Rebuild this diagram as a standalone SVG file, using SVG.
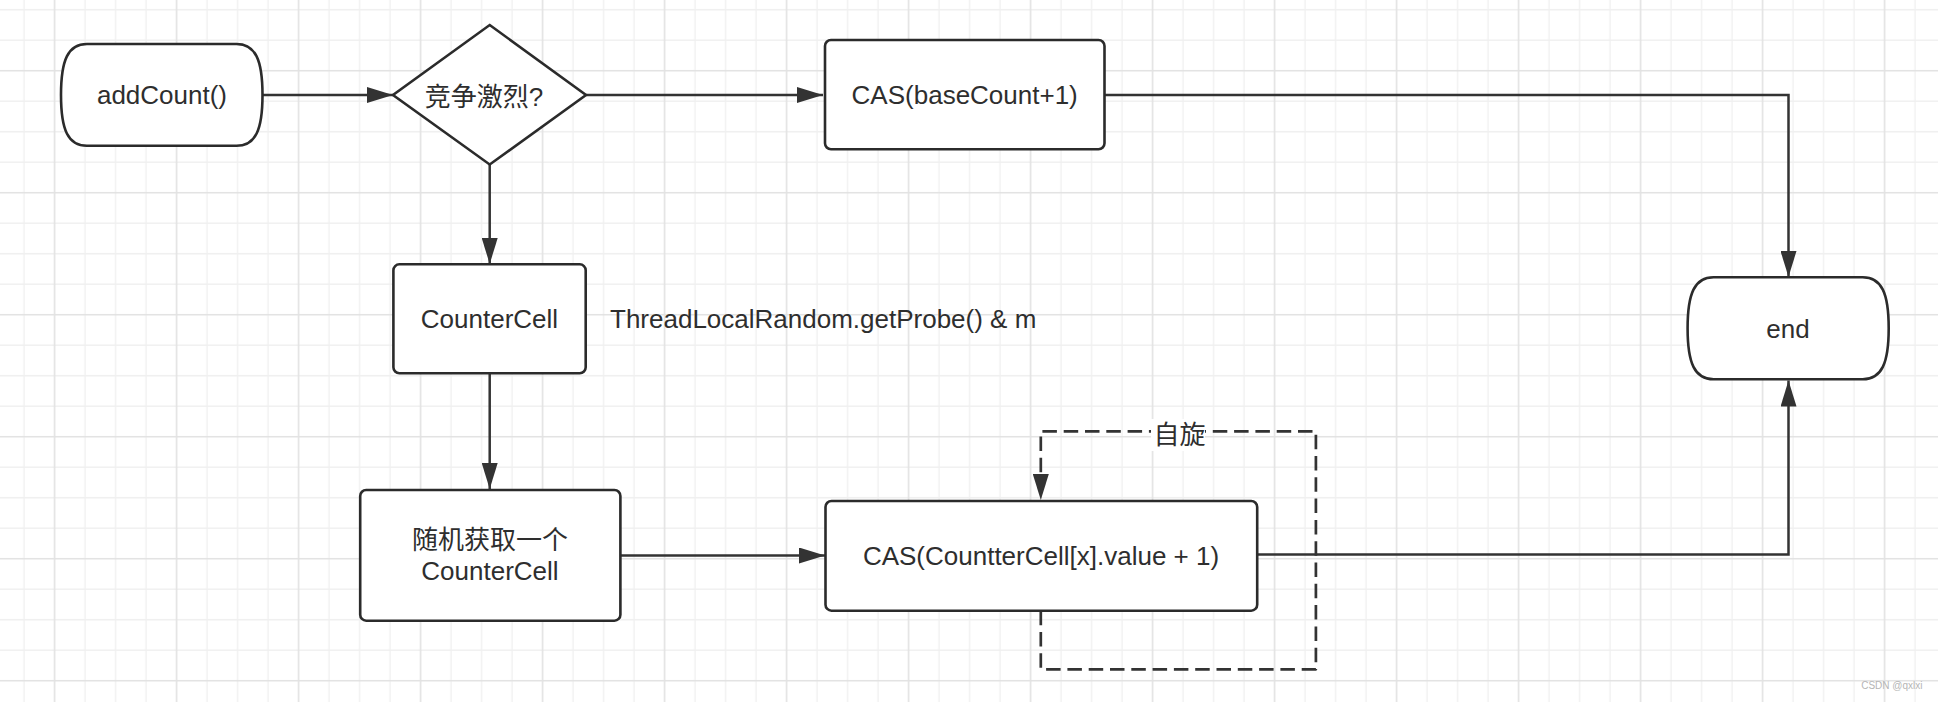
<svg xmlns="http://www.w3.org/2000/svg" width="1938" height="702" viewBox="0 0 1938 702">
  <style>
    .box { fill: #ffffff; stroke: #2b2b2b; stroke-width: 2.6; }
    .lbl { font-family: "Liberation Sans", "Noto Sans CJK SC", sans-serif; font-size: 26px; fill: #2e2e2e; text-anchor: middle; }
    .conn { fill: none; stroke: #333333; stroke-width: 2.5; }
    .dash { fill: none; stroke: #333333; stroke-width: 2.7; stroke-dasharray: 14.5 6.8; stroke-linejoin: round; }
  </style>
  <defs>
    <pattern id="grid" patternUnits="userSpaceOnUse" x="8.75" y="24.95" width="122" height="122">
      <path d="M15.25,0 V122 M76.25,0 V122 M106.75,0 V122 M0,15.25 H122 M0,76.25 H122 M0,106.75 H122" stroke="#f0f0f0" stroke-width="1.3" fill="none"/>
      <path d="M45.75,0 V122 M0,45.75 H122" stroke="#e2e2e2" stroke-width="1.6" fill="none"/>
    </pattern>
    <marker id="arrow" viewBox="0 0 26 16" refX="26" refY="8" markerWidth="26" markerHeight="16" markerUnits="userSpaceOnUse" orient="auto">
      <path d="M0,0 L26,8 L0,16 Z" fill="#333333"/>
    </marker>
  </defs>

  <rect x="0" y="0" width="1938" height="702" fill="#ffffff"/>
  <rect x="0" y="0" width="1938" height="702" fill="url(#grid)"/>

  <g id="connectors">
    <path class="conn" d="M262.5,95 H393" marker-end="url(#arrow)"/>
    <path class="conn" d="M586,95 H823" marker-end="url(#arrow)"/>
    <path class="conn" d="M489.7,164.5 V264" marker-end="url(#arrow)"/>
    <path class="conn" d="M1104.5,95 H1788.5 V277" marker-end="url(#arrow)"/>
    <path class="conn" d="M489.7,373.3 V489" marker-end="url(#arrow)"/>
    <path class="conn" d="M620.4,555.5 H825" marker-end="url(#arrow)"/>
    <path class="conn" d="M1257,554.5 H1788.5 V380.5" marker-end="url(#arrow)"/>
    <path class="dash" d="M1040.8,610.7 V669.3 H1315.9 V431.3 H1040.8 V500" marker-end="url(#arrow)"/>
    <rect x="1151" y="419" width="54" height="32" fill="#ffffff"/>
    <text class="lbl" x="1179.5" y="444">自旋</text>
  </g>

  <g id="addCount">
    <path class="box" d="M87,44 H236.5 C255.5,44 262.5,60 262.5,95 C262.5,130 255.5,145.7 236.5,145.7 H87 C68,145.7 61,130 61,95 C61,60 68,44 87,44 Z"/>
    <text class="lbl" x="162" y="104">addCount()</text>
  </g>

  <g id="decision">
    <path class="box" d="M489.7,25 L586,95 L489.7,164.5 L393,95 Z"/>
    <text class="lbl" x="484" y="106">竞争激烈?</text>
  </g>

  <g id="casBase">
    <rect class="box" x="825" y="40" width="279.5" height="109.3" rx="6"/>
    <text class="lbl" x="964.7" y="104">CAS(baseCount+1)</text>
  </g>

  <g id="counterCell">
    <rect class="box" x="393.4" y="264.3" width="192.3" height="109" rx="6"/>
    <text class="lbl" x="489.5" y="328">CounterCell</text>
  </g>

  <g id="probeNote">
    <text class="lbl" x="610" y="328" style="text-anchor:start">ThreadLocalRandom.getProbe() &amp; m</text>
  </g>

  <g id="randomCell">
    <rect class="box" x="360.2" y="490" width="260.2" height="130.7" rx="6"/>
    <text class="lbl" x="490" y="549">随机获取一个</text>
    <text class="lbl" x="490" y="580">CounterCell</text>
  </g>

  <g id="casCell">
    <rect class="box" x="825.5" y="501" width="431.7" height="109.7" rx="6"/>
    <text class="lbl" x="1041" y="565">CAS(CountterCell[x].value + 1)</text>
  </g>

  <g id="end">
    <path class="box" d="M1713.6,277.3 H1862.7 C1881.7,277.3 1888.7,293.3 1888.7,328.3 C1888.7,363.3 1881.7,379.3 1862.7,379.3 H1713.6 C1694.6,379.3 1687.6,363.3 1687.6,328.3 C1687.6,293.3 1694.6,277.3 1713.6,277.3 Z"/>
    <text class="lbl" x="1788" y="338">end</text>
  </g>

  <text x="1922.5" y="689" style="font-family:'Liberation Sans',sans-serif;font-size:10px;fill:#b5b5b5;text-anchor:end">CSDN @qxlxi</text>
</svg>
